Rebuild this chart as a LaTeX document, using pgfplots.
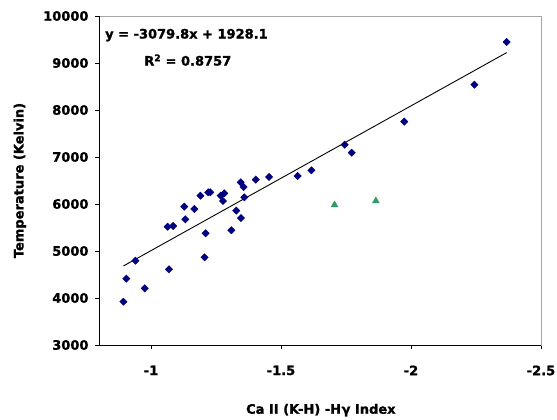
\documentclass[border=0pt]{standalone}
\usepackage{pgfplots}
\pgfplotsset{compat=1.18}
\usepackage{fontspec}
\setmainfont{DejaVu Sans}[BoldFeatures={FakeBold=1.3}]
\definecolor{navy}{RGB}{0,0,128}
\definecolor{seagreen}{RGB}{51,153,102}
\begin{document}
\begin{tikzpicture}
\useasboundingbox (0,0) rectangle (557pt,420pt);
\fill[white] (0,0) rectangle (557pt,420pt);
\begin{axis}[
  at={(99pt,75pt)},
  scale only axis,
  width=442pt, height=329pt,
  x dir=reverse,
  xmin=-2.5, xmax=-0.8,
  ymin=3000, ymax=10000,
  scaled x ticks=false, scaled y ticks=false,
  xtick={-1,-1.5,-2,-2.5},
  xticklabels={-1,-1.5,-2,-2.5},
  ytick={3000,4000,5000,6000,7000,8000,9000,10000},
  yticklabels={3000,4000,5000,6000,7000,8000,9000,10000},
  tick pos=left,
  tick align=outside,
  major tick length=4pt,
  tick style={black, line width=0.8pt},
  axis line style={gray!70, line width=0.8pt},
  ticklabel style={font=\fontsize{13}{15}\selectfont\bfseries},
  xticklabel style={yshift=-13pt},
  yticklabel style={xshift=-3pt},
  xlabel={Ca II (K-H) -H\kern0.5pt γ Index},
  ylabel={Temperature (Kelvin)},
  label style={font=\fontsize{13}{15}\selectfont\bfseries},
  xlabel style={at={(axis description cs:0.502,-0.198)}, anchor=center},
  ylabel style={at={(axis description cs:-0.179,0.5)}, anchor=center, rotate=0},
  clip=false,
]
\addplot[only marks, mark=square*, mark size=2.6pt, mark options={rotate=45, fill=navy, draw=navy}] coordinates {
(-0.894,3921) (-0.905,4411) (-0.940,4794) (-0.976,4206) (-1.069,4610)
(-1.064,5517) (-1.085,5532) (-1.128,5943) (-1.132,5674) (-1.167,5894)
(-1.190,6177) (-1.206,4866) (-1.210,5377) (-1.220,6249) (-1.228,6249)
(-1.268,6177) (-1.282,6228) (-1.277,6064) (-1.309,5441) (-1.328,5858)
(-1.346,5702) (-1.345,6461) (-1.356,6362) (-1.359,6142) (-1.403,6518)
(-1.454,6575) (-1.564,6596) (-1.617,6717) (-1.745,7262) (-1.772,7092)
(-1.974,7752) (-2.244,8539) (-2.368,9447)
};
\addplot[only marks, mark=triangle*, mark size=4pt, mark options={fill=seagreen, draw=seagreen}] coordinates {
(-1.706,5979) (-1.865,6064)
};
\addplot[black, line width=0.9pt, no marks] coordinates {
(-0.894,4681.4) (-2.368,9221.1)
};
\draw[black, line width=0.8pt] (axis description cs:0,1) -- (axis description cs:0,0) -- (axis description cs:1,0);
\node[anchor=west, inner sep=0pt, font=\fontsize{13}{15}\selectfont\bfseries] at (axis description cs:0.0136,0.942) {y = -3079.8x + 1928.1};
\node[anchor=west, inner sep=0pt, font=\fontsize{13}{15}\selectfont\bfseries] at (axis description cs:0.102,0.866) {R\textsuperscript{2} = 0.8757};
\end{axis}
\end{tikzpicture}
\end{document}
